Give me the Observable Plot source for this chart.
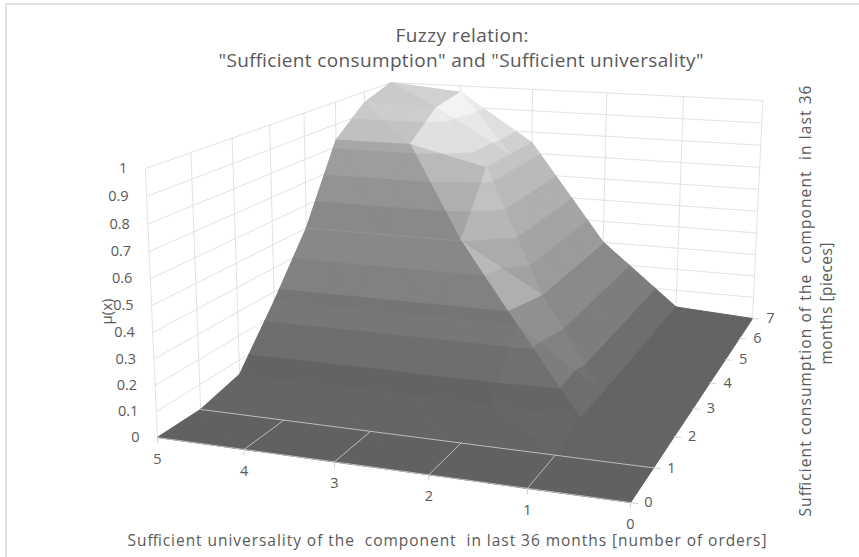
<!DOCTYPE html>
<html><head><meta charset="utf-8">
<script src="https://cdn.jsdelivr.net/npm/d3@7"></script>
<script src="https://cdn.jsdelivr.net/npm/@observablehq/plot@0.6"></script>
<style>html,body{margin:0;padding:0;background:#fff}svg{display:block}</style>
</head><body><div id="chart"></div>
<script>
const universality=[0,1,2,3,4,5];
const consumption=[0,1,2,3,4,5,6,7];
const muTicks=[0,.1,.2,.3,.4,.5,.6,.7,.8,.9,1];
// membership value: rows by consumption 0..7, columns by universality 0..5
const row0=[0,0,0,0,0,0];
const row1=[0,0,0,0,0,0];
const row2=[0,.025,.04,.04,.04,.04];
const row3=[0,.02,.26,.26,.26,.26];
const row4=[0,.02,.3,.5,.5,.5];
const row5=[0,.02,.3,.75,.83,.83];
const row6=[0,.02,.3,.75,.945,.95];
const row7=[0,.02,.3,.75,.97,1];
const rows=[row0,row1,row2,row3,row4,row5,row6,row7];
const bandGray=[97,106,114,123,130,140,150,160,170,178];
const bandContrast=[.45,.6,.7,1.1,1.1,1.05,1,.95,1,1];

// view of the 3D box: a homography fitted to the box corners
const W={a:.115,b:.39,h:-.045};
const X={o:630,a:-455,b:415.3,h:-20};
const Y={o:502,a:-14.7,b:-60,h:-307.5};
function proj(u,c,z){
  const a=u/5,b=c/7,h=z;
  const d=1+W.a*a+W.b*b+W.h*h;
  return {x:(X.o+X.a*a+X.b*b+X.h*h)/d,y:(Y.o+Y.a*a+Y.b*b+Y.h*h)/d};
}
const L={a:-.954,b:-.607,h:.963,amb:.037,gain:.8};
function shade(p,q,r){
  const s=[(q[0]-p[0])/5,(q[1]-p[1])/7,q[2]-p[2]],t=[(r[0]-p[0])/5,(r[1]-p[1])/7,r[2]-p[2]];
  let n=[s[1]*t[2]-s[2]*t[1],s[2]*t[0]-s[0]*t[2],s[0]*t[1]-s[1]*t[0]];
  if(n[2]<0)n=n.map(v=>-v);
  const m=Math.hypot(...n);
  return (L.amb+(n[0]*L.a+n[1]*L.b+n[2]*L.h)/m-1)*L.gain;
}
function clip(poly,lim,above){
  const out=[];
  for(let i=0;i<poly.length;i++){
    const p=poly[i],q=poly[(i+1)%poly.length];
    const pin=above?p[2]>=lim:p[2]<=lim,qin=above?q[2]>=lim:q[2]<=lim;
    if(pin)out.push(p);
    if(pin!==qin){const t=(lim-p[2])/(q[2]-p[2]);out.push([p[0]+t*(q[0]-p[0]),p[1]+t*(q[1]-p[1]),lim]);}
  }
  return out;
}
const surface=[];let pid=0;
function addTri(p,q,r){
  const s=shade(p,q,r);
  for(let k=0;k<10;k++){
    let poly=clip(clip([p,q,r],k/10,true),(k+1)/10,false);
    if(poly.length<3)continue;
    const g=Math.min(255,Math.round(bandGray[k]*(1+s*bandContrast[k])));
    const c=d3.rgb(g,g,g).formatHex();
    pid++;
    for(const v of [...poly,poly[0]]){const P=proj(...v);surface.push({x:P.x,y:P.y,id:pid,c});}
  }
}
for(let u=4;u>=0;u--)for(let c=6;c>=0;c--){
  const A=[u,c,rows[c][u]],B=[u+1,c,rows[c][u+1]],C=[u+1,c+1,rows[c+1][u+1]],D=[u,c+1,rows[c+1][u]];
  addTri(A,D,C);addTri(A,B,C);
}
const wall=[];const seg=(arr,id,p,q)=>{arr.push({...proj(...p),id},{...proj(...q),id});};
let w=0;
for(const c of consumption)seg(wall,w++,[5,c,0],[5,c,1]);
for(const u of universality)seg(wall,w++,[u,7,0],[u,7,1]);
for(const z of muTicks){seg(wall,w++,[5,0,z],[5,7,z]);seg(wall,w++,[5,7,z],[0,7,z]);}
const floor=[];let f=0;
seg(floor,f++,[0,1,0],[5,1,0]);seg(floor,f++,[0,0,0],[5,0,0]);
for(const u of [1,2,3,4])seg(floor,f++,[u,0,0],[u,1,0]);
const ticks=[];let t=0;
for(const u of universality)seg(ticks,t++,[u,0,0],[u,0,-.02]);
for(const c of consumption)seg(ticks,t++,[0,c,0],[-.07,c,0]);
const muLab=muTicks.map(z=>({...proj(5,0,z),z}));
const uLab=universality.map(u=>({...proj(u,0,0),u}));
const cLab=consumption.map(c=>({...proj(0,c,0),c}));

const ink="#595959",font="'Open Sans', sans-serif";
const note=(text,x,y,extra={})=>Plot.text([text],{x:()=>x,y:()=>y,text:d=>d,fill:ink,fontSize:14,...extra});
const T1="Fuzzy relation:",T2='"Sufficient consumption" and "Sufficient universality"',
  XT="Sufficient universality of the  component  in last 36 months [number of orders]",
  ZT="μ(x)",YT1="Sufficient consumption of the  component  in last 36",YT2="months [pieces]";
const chart=Plot.plot({
  width:859,height:557,margin:0,style:{fontFamily:font,background:"#fff"},
  x:{domain:[0,859],range:[0,859],axis:null},
  y:{domain:[0,557],range:[0,557],axis:null},
  marks:[
    Plot.ruleX([5.5],{y1:3,y2:557,stroke:"#e0e0e0",strokeWidth:2}),
    Plot.ruleY([3.5],{x1:5,x2:859,stroke:"#e0e0e0",strokeWidth:2}),
    Plot.line(wall,{x:"x",y:"y",z:"id",stroke:"#e2e2e2",strokeWidth:1}),
    Plot.line(surface,{x:"x",y:"y",z:"id",fill:"c",stroke:"c",strokeWidth:1.1}),
    Plot.line(floor,{x:"x",y:"y",z:"id",stroke:"#bdbdbd",strokeWidth:1}),
    Plot.line(ticks,{x:"x",y:"y",z:"id",stroke:"#d0d0d0",strokeWidth:1}),
    Plot.text(muLab,{x:"x",y:"y",text:d=>String(d.z),dx:-18,textAnchor:"end",fill:ink,fontSize:14.5}),
    Plot.text(uLab,{x:"x",y:"y",text:d=>String(d.u),dy:22,fill:ink,fontSize:14.5}),
    Plot.text(cLab,{x:"x",y:"y",text:d=>String(d.c),dx:18,fill:ink,fontSize:14.5}),
    note(T1,461.5,35,{fontSize:19}),
    note(T2,460.5,60,{fontSize:19}),
    note(XT,446.5,541,{fontSize:15.5}),
    note(ZT,107,311,{rotate:-90,fontSize:15}),
    note(YT1,806,300.5,{rotate:-90,fontSize:15.5}),
    note(YT2,827,303,{rotate:-90,fontSize:15.5})
  ]
});
// stretch the long labels to the extents they have in the reference
const lengths=new Map([[T1,133],[T2,485],[XT,639],[YT1,431],[YT2,122]]);
chart.querySelectorAll("text").forEach(e=>{const n=lengths.get(e.textContent);if(n)e.setAttribute("textLength",n);});
document.getElementById("chart").append(chart);
</script></body></html>
